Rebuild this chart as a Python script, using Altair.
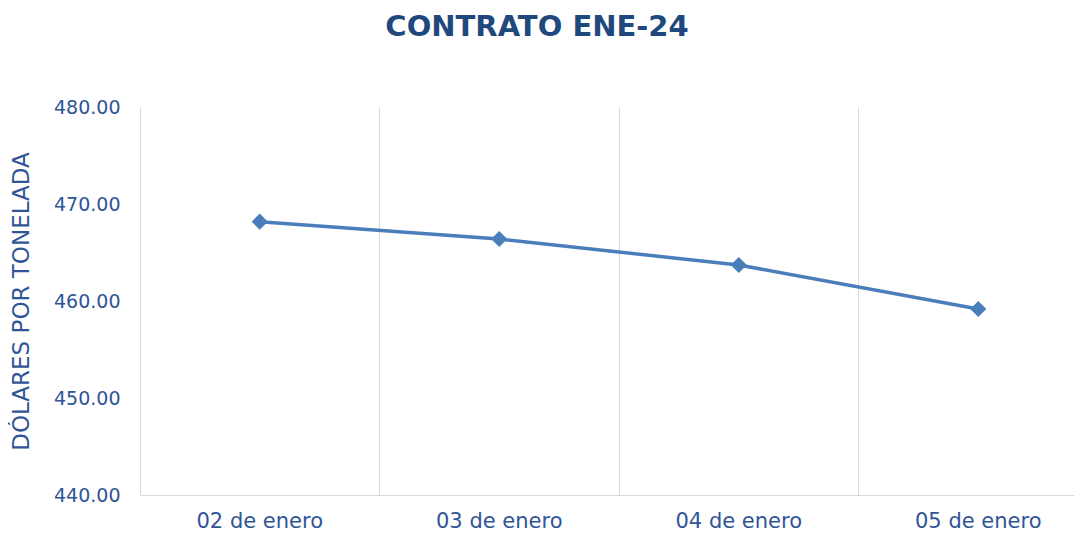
import altair as alt
import pandas as pd

fechas = ["02 de enero", "03 de enero", "04 de enero", "05 de enero"]
precios = [468.18, 466.39, 463.71, 459.18]

df = pd.DataFrame({"fecha": fechas, "precio": precios})

TXT = "#2F5597"

base = alt.Chart(df).encode(
    x=alt.X(
        "fecha:N",
        sort=fechas,
        scale=alt.Scale(type="band", paddingInner=0, paddingOuter=0, range=[0, 958]),
        axis=alt.Axis(
            title=None,
            labelAngle=0,
            labelFont="DejaVu Sans",
            labelFontSize=21,
            labelColor=TXT,
            labelPadding=15,
            ticks=False,
            grid=True,
            gridColor="#D9D9D9",
            gridWidth=1,
            bandPosition=0,
            domainColor="#D9D9D9",
            domainWidth=1,
        ),
    ),
    y=alt.Y(
        "precio:Q",
        scale=alt.Scale(domain=[440, 480], nice=False, zero=False),
        axis=alt.Axis(
            title="DÓLARES POR TONELADA",
            titleFont="DejaVu Sans",
            titleFontSize=23,
            titleFontWeight="normal",
            titleColor=TXT,
            titlePadding=20,
            values=[440, 450, 460, 470, 480],
            format=".2f",
            labelFont="DejaVu Sans",
            labelFontSize=19,
            labelColor=TXT,
            labelPadding=20,
            ticks=False,
            grid=False,
            domain=False,
        ),
    ),
)

line = base.mark_line(color="#4A7EBB", strokeWidth=3.5)
pts = base.mark_point(shape="diamond", filled=True, size=260, color="#4A7EBB", opacity=1)

chart = (
    (line + pts)
    .properties(
        width=934,
        height=388,
        autosize=alt.AutoSizeParams(type="none"),
        padding={"left": 132, "top": 99, "right": 0, "bottom": 36},
        title=alt.TitleParams(
            text="CONTRATO ENE-24",
            font="DejaVu Sans",
            fontSize=29,
            fontWeight="bold",
            color="#1F497D",
            anchor="middle",
            dx=-70,
            offset=56,
        ),
    )
    .configure_view(stroke=None)
)

chart.save("out.html", embed_options={"renderer": "svg", "actions": False})
